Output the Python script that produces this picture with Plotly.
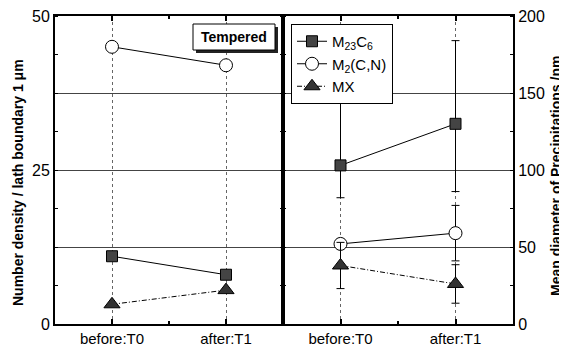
import plotly.graph_objects as go

categories = ["before:T0", "after:T1"]
xpos = [0, 1]

# Left panel: number density / lath boundary 1 um
dens_m23c6 = [11.0, 8.0]
dens_m2cn = [45.0, 42.0]
dens_mx = [3.2, 5.5]

# Right panel: mean diameter of precipitations / nm
diam_m23c6 = [103, 130]
diam_m23c6_err_plus = [65, 54]
diam_m23c6_err_minus = [21, 44]
diam_m2cn = [52, 59]
diam_m2cn_err = [1, 18]
diam_mx = [38, 26]
diam_mx_err = [15, 12.5]

names = ["M<sub>23</sub>C<sub>6</sub>", "M<sub>2</sub>(C,N)", "MX"]

FONT = "Liberation Sans, Arial, sans-serif"
# the page draws the figure 8px in from the top-left corner
OFF = 8
PL, PR, PT, PB = 55, 513, 16, 324   # plot area in window pixels
W, H = 567 - OFF, 352 - OFF
L, T = PL - OFF, PT - OFF
R, B = 567 - PR, 352 - PB
pw = PR - PL
ph = PB - PT
split = (283 - PL) / pw

def px(x):
    return (x - PL) / pw

def py(y):
    return (PB - y) / ph

sq = dict(symbol="square", size=11, color="#444444", line=dict(color="black", width=1))
ci = dict(symbol="circle", size=13, color="white", line=dict(color="black", width=1))
tr = dict(symbol="triangle-up", size=14, color="#333333", line=dict(color="black", width=1))
mxdash = "5px,2px,1px,2px"

fig = go.Figure()

# left panel
fig.add_trace(go.Scatter(x=xpos, y=dens_m23c6, mode="lines+markers", name=names[0],
                         legendgroup="a", marker=sq, line=dict(color="black", width=1),
                         xaxis="x", yaxis="y"))
fig.add_trace(go.Scatter(x=xpos, y=dens_m2cn, mode="lines+markers", name=names[1],
                         legendgroup="b", marker=ci, line=dict(color="black", width=1),
                         xaxis="x", yaxis="y"))
fig.add_trace(go.Scatter(x=xpos, y=dens_mx, mode="lines+markers", name=names[2],
                         legendgroup="c", marker=tr, line=dict(color="black", width=1, dash=mxdash),
                         xaxis="x", yaxis="y"))

# right panel
fig.add_trace(go.Scatter(x=xpos, y=diam_m23c6, mode="lines+markers", name=names[0],
                         legendgroup="a", showlegend=False, marker=sq,
                         line=dict(color="black", width=1),
                         error_y=dict(type="data", symmetric=False, array=diam_m23c6_err_plus,
                                      arrayminus=diam_m23c6_err_minus, color="black",
                                      thickness=1, width=4),
                         xaxis="x2", yaxis="y2"))
fig.add_trace(go.Scatter(x=xpos, y=diam_m2cn, mode="lines+markers", name=names[1],
                         legendgroup="b", showlegend=False, marker=ci,
                         line=dict(color="black", width=1),
                         error_y=dict(type="data", array=diam_m2cn_err, color="black",
                                      thickness=1, width=4),
                         xaxis="x2", yaxis="y2"))
fig.add_trace(go.Scatter(x=xpos, y=diam_mx, mode="lines+markers", name=names[2],
                         legendgroup="c", showlegend=False, marker=tr,
                         line=dict(color="black", width=1, dash=mxdash),
                         error_y=dict(type="data", array=diam_mx_err, color="black",
                                      thickness=1, width=4),
                         xaxis="x2", yaxis="y2"))

xcommon = dict(range=[-0.5, 1.5], tickmode="array", tickvals=xpos, ticktext=categories,
               ticks="inside", ticklen=5, tickwidth=2, tickcolor="black",
               showline=True, linewidth=2, linecolor="black", mirror="ticks",
               showgrid=True, gridcolor="#666666", gridwidth=1, griddash="dot",
               zeroline=False, fixedrange=True, automargin=False,
               ticklabeloverflow="allow",
               tickfont=dict(family=FONT, size=15, color="black"),
               minor=dict(tickvals=[0.5], ticks="inside", ticklen=3, tickcolor="black"))

fig.update_layout(
    width=W, height=H,
    margin=dict(l=L, r=R, t=T, b=B, autoexpand=False),
    paper_bgcolor="white", plot_bgcolor="white",
    xaxis=dict(domain=[0, split], anchor="y", **xcommon),
    xaxis2=dict(domain=[split, 1], anchor="y2", **xcommon),
    yaxis=dict(range=[0, 50], anchor="x", tickmode="array",
               tickvals=[0, 12.5, 25, 37.5, 50], ticktext=["0", "", "25", "", "50"],
               ticks="", showline=True, linewidth=2, linecolor="black", mirror="ticks",
               showgrid=True, gridcolor="#444444", gridwidth=1, zeroline=False,
               tickfont=dict(family=FONT, size=16, color="black"),
               minor=dict(dtick=6.25, ticks="inside", ticklen=3, tickcolor="black"),
               fixedrange=True, automargin=False, ticklabeloverflow="allow"),
    yaxis2=dict(range=[0, 200], anchor="x2", side="right", tickmode="array",
                tickvals=[0, 50, 100, 150, 200],
                ticks="", showline=True, linewidth=2, linecolor="black", mirror="ticks",
                showgrid=True, gridcolor="#444444", gridwidth=1, zeroline=False,
                tickfont=dict(family=FONT, size=16, color="black"),
                minor=dict(dtick=25, ticks="inside", ticklen=3, tickcolor="black"),
                fixedrange=True, automargin=False, ticklabeloverflow="allow"),
    showlegend=True,
    legend=dict(x=px(291), y=py(24), xanchor="left", yanchor="top",
                bgcolor="white", bordercolor="black", borderwidth=1,
                font=dict(family=FONT, size=15, color="black"),
                tracegroupgap=0, itemwidth=30),
    shapes=[
        dict(type="rect", xref="paper", yref="paper",
             x0=px(196), x1=px(278), y0=py(27), y1=py(53),
             fillcolor="#222222", line=dict(width=0), layer="above"),
        dict(type="rect", xref="paper", yref="paper",
             x0=px(193), x1=px(275), y0=py(24), y1=py(50),
             fillcolor="white", line=dict(color="black", width=1), layer="above"),
    ],
    annotations=[
        dict(text="<b>Tempered</b>", xref="paper", yref="paper",
             x=px(234), y=py(37), xanchor="center", yanchor="middle", showarrow=False,
             font=dict(family=FONT, size=14, color="black")),
        dict(text="<b>Number density / lath boundary 1 μm</b>", xref="paper", yref="paper",
             x=px(18), y=py(183), xanchor="center", yanchor="middle", showarrow=False,
             textangle=-90, font=dict(family=FONT, size=14, color="black")),
        dict(text="<b>Mean diameter of Precipitations /nm</b>", xref="paper", yref="paper",
             x=px(556), y=py(176), xanchor="center", yanchor="middle", showarrow=False,
             textangle=-90, font=dict(family=FONT, size=14, color="black")),
    ],
)

fig.write_html("out.html")
